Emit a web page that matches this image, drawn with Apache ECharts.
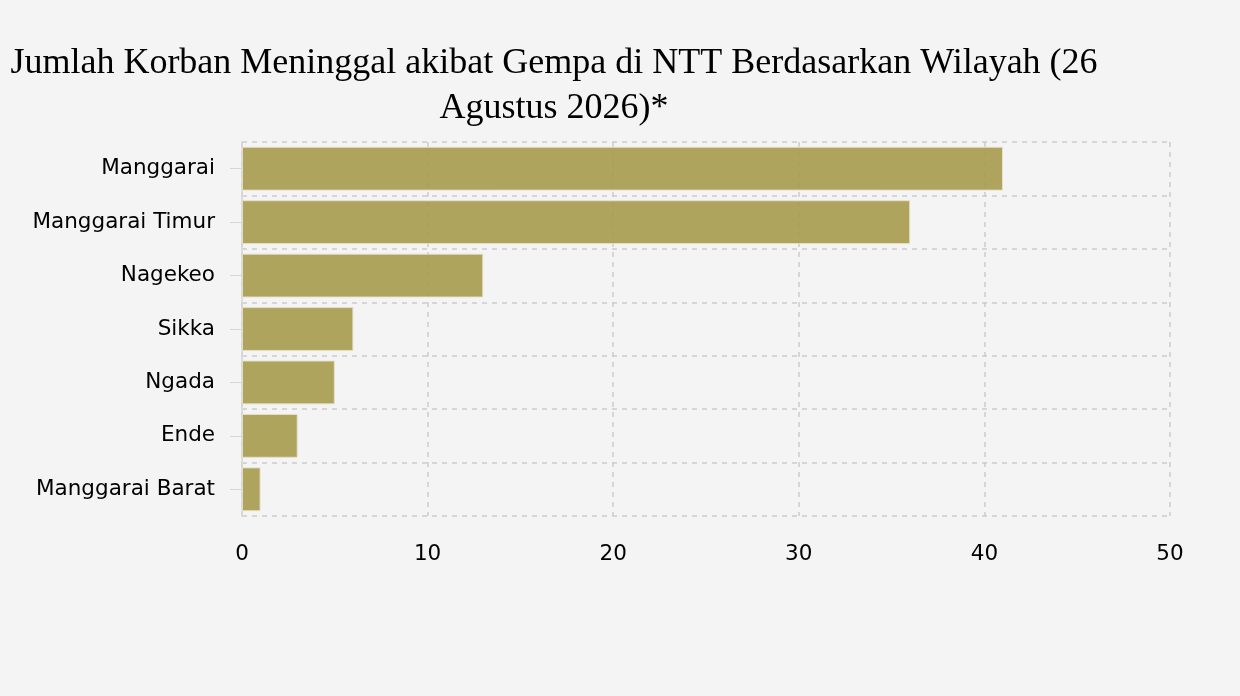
<!DOCTYPE html>
<html>
<head>
<meta charset="utf-8">
<script src="https://cdn.jsdelivr.net/npm/echarts@6/dist/echarts.min.js"></script>
<style>
  html, body { margin: 0; padding: 0; background: #f4f4f4; }
  #chart { width: 1240px; height: 696px; }
</style>
</head>
<body>
<div id="chart"></div>
<script>
const regions = ["Manggarai", "Manggarai Timur", "Nagekeo", "Sikka", "Ngada", "Ende", "Manggarai Barat"];
const deaths = [41, 36, 13, 6, 5, 3, 1];
const xTicks = [0, 10, 20, 30, 40, 50];

const chart = echarts.init(document.getElementById("chart"));

chart.setOption({
  backgroundColor: "#f4f4f4",
  title: {
    text: "Jumlah Korban Meninggal akibat Gempa di NTT Berdasarkan Wilayah (26\nAgustus 2026)*",
    left: 549,
    top: 36,
    textAlign: "center",
    textStyle: {
      fontFamily: "Liberation Serif",
      fontSize: 36,
      fontWeight: "normal",
      color: "#000",
      lineHeight: 45
    }
  },
  grid: { left: 242, right: 70, top: 142, bottom: 180, containLabel: false },
  xAxis: {
    type: "value",
    min: xTicks[0],
    max: xTicks[xTicks.length - 1],
    interval: 10,
    position: "bottom",
    axisLine: { show: false },
    axisTick: { show: false },
    axisLabel: {
      margin: 27,
      fontFamily: "DejaVu Sans",
      fontSize: 21.5,
      color: "#000"
    },
    splitLine: {
      show: true,
      lineStyle: { color: "#cccccc", type: [5, 5], width: 1.5 }
    }
  },
  yAxis: {
    type: "category",
    data: regions,
    inverse: true,
    axisLine: { show: true, lineStyle: { color: "#d6d6d6", width: 1.5 } },
    axisTick: { show: true, length: 12, alignWithLabel: true, lineStyle: { color: "#d6d6d6" } },
    axisLabel: {
      margin: 27,
      fontFamily: "DejaVu Sans",
      fontSize: 21.5,
      color: "#000"
    },
    splitLine: {
      show: true,
      lineStyle: { color: "#cccccc", type: [5, 5], width: 1.5 }
    }
  },
  series: [{
    type: "bar",
    data: deaths,
    barCategoryGap: "18%",
    itemStyle: {
      color: "rgba(168, 156, 80, 0.92)",
      borderColor: "rgba(230, 224, 200, 0.9)",
      borderWidth: 1
    },
    z: 1
  }]
});
</script>
</body>
</html>
